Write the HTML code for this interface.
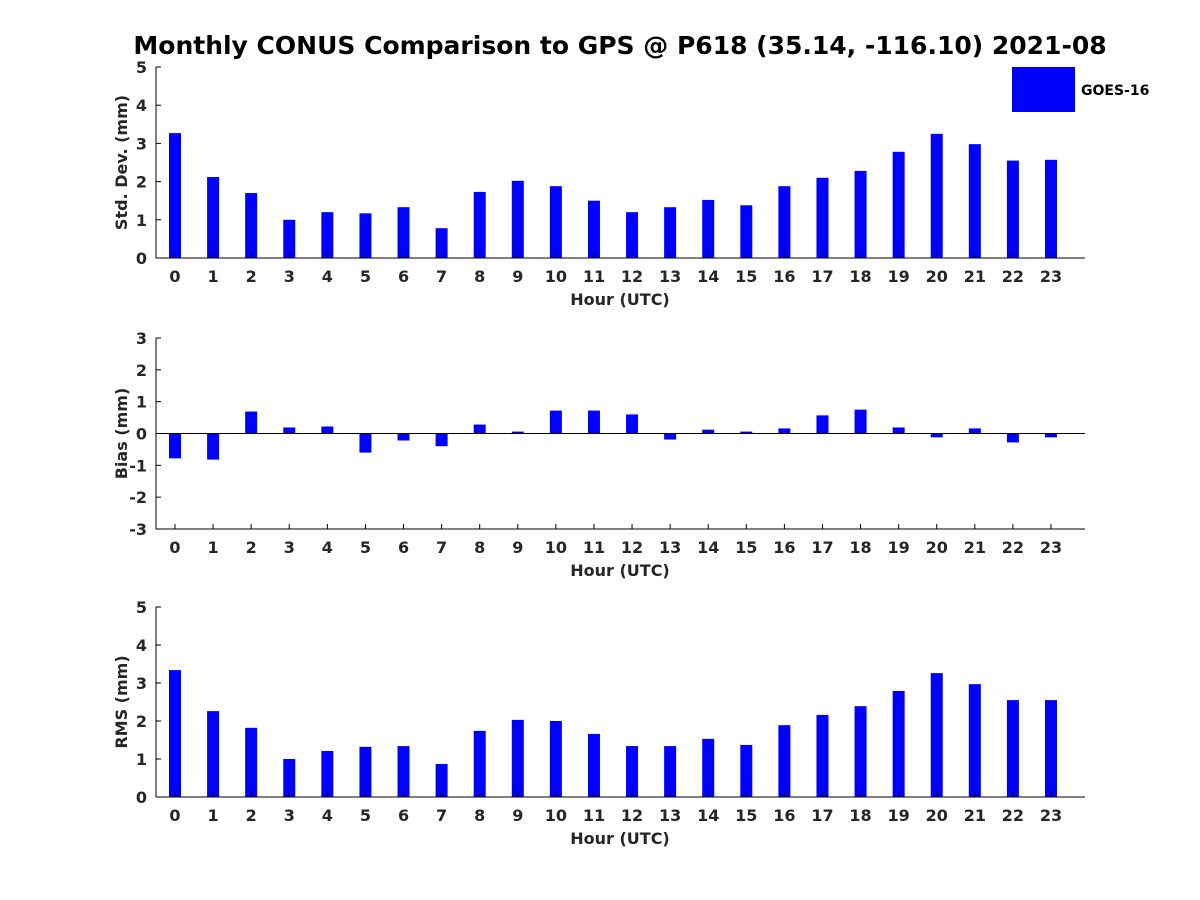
<!DOCTYPE html>
<html><head><meta charset="utf-8"><style>
body{margin:0;background:#fff;}
svg{display:block;font-family:"DejaVu Sans","Liberation Sans",sans-serif;font-weight:bold;}
</style></head><body>
<svg id="chart" width="1200" height="900" viewBox="0 0 1200 900">
<rect width="1200" height="900" fill="#fff"/>
<text x="620" y="54" text-anchor="middle" font-size="25" fill="#000">Monthly CONUS Comparison to GPS @ P618 (35.14, -116.10) 2021-08</text>
<rect x="1012" y="67" width="63" height="45" fill="#0000ff"/>
<text x="1081" y="95" font-size="14" fill="#000">GOES-16</text>
</svg>
<script>
const hours = [0,1,2,3,4,5,6,7,8,9,10,11,12,13,14,15,16,17,18,19,20,21,22,23];
const stdValues = [3.27,2.12,1.70,1.00,1.20,1.17,1.33,0.78,1.73,2.02,1.88,1.50,1.20,1.33,1.52,1.38,1.88,2.10,2.28,2.78,3.25,2.98,2.55,2.57];
const biasValues = [-0.78,-0.82,0.69,0.19,0.22,-0.60,-0.22,-0.40,0.28,0.06,0.72,0.72,0.60,-0.19,0.12,0.06,0.16,0.57,0.75,0.19,-0.12,0.16,-0.28,-0.12];
const rmsValues = [3.34,2.26,1.82,1.00,1.21,1.32,1.34,0.87,1.74,2.03,2.00,1.66,1.34,1.34,1.53,1.37,1.89,2.16,2.39,2.79,3.26,2.97,2.55,2.55];
const stdTicks = [0,1,2,3,4,5];
const biasTicks = [-3,-2,-1,0,1,2,3];
const rmsTicks = [0,1,2,3,4,5];

const svg = document.getElementById('chart');
const NS = 'http://www.w3.org/2000/svg';
function mk(tag, attrs, parent){const e=document.createElementNS(NS,tag);for(const k in attrs)e.setAttribute(k,attrs[k]);(parent||svg).appendChild(e);return e;}

function panel(key, values, ticks, top, bottom, yLabel){
  const ymin = ticks[0], ymax = ticks[ticks.length-1];
  const x0 = 156, x1 = 1085;
  const xs = h => 175 + (h - hours[0]) * (1051 - 175) / (hours[hours.length-1] - hours[0]);
  const ys = v => bottom - (v - ymin) * (bottom - top) / (ymax - ymin);
  const g = mk('g', {});
  
  
  const base = ys(Math.max(ymin, Math.min(0, ymax)));
  values.forEach((v, i) => {
    const yv = ys(v);
    const r = mk('rect', {x: xs(hours[i]) - 6, y: Math.min(yv, base), width: 12, height: Math.abs(base - yv), fill: '#0000ff'}, g);
    
    
  });
  if (ymin < 0) mk('line', {x1: x0, x2: x1, y1: base, y2: base, stroke: '#000', 'stroke-width': 1}, g);
  const ax = mk('line', {x1: x0, x2: x0, y1: top, y2: bottom, stroke: '#000', 'stroke-width': 1}, g);
  
  
  const bx = mk('line', {x1: x0, x2: x1, y1: bottom, y2: bottom, stroke: '#000', 'stroke-width': 1}, g);
  
  
  ticks.forEach(t => {
    mk('line', {x1: x0, x2: x0 + 5, y1: ys(t), y2: ys(t), stroke: '#000'}, g);
    const tl = mk('text', {x: x0 - 9, y: ys(t) + 6, 'text-anchor': 'end', 'font-size': 16, fill: '#262626'}, g);
    tl.textContent = t;
    
    
  });
  hours.forEach(h => {
    mk('line', {x1: xs(h), x2: xs(h), y1: bottom, y2: bottom - 5, stroke: '#000'}, g);
    const tl = mk('text', {x: xs(h), y: bottom + 24, 'text-anchor': 'middle', 'font-size': 16, fill: '#262626'}, g);
    tl.textContent = h;
    
    
  });
  const xt = mk('text', {x: 620, y: bottom + 47, 'text-anchor': 'middle', 'font-size': 16, fill: '#262626'}, g);
  xt.textContent = 'Hour (UTC)';
  
  
  const cy = (top + bottom) / 2;
  const yt = mk('text', {x: 0, y: 0, 'text-anchor': 'middle', 'font-size': 16, fill: '#262626', transform: 'translate(127,' + cy + ') rotate(-90)'}, g);
  yt.textContent = yLabel;
  
  
}
panel('std', stdValues, stdTicks, 67, 258, 'Std. Dev. (mm)');
panel('bias', biasValues, biasTicks, 338, 529, 'Bias (mm)');
panel('rms', rmsValues, rmsTicks, 607, 797, 'RMS (mm)');
</script>
</body></html>
